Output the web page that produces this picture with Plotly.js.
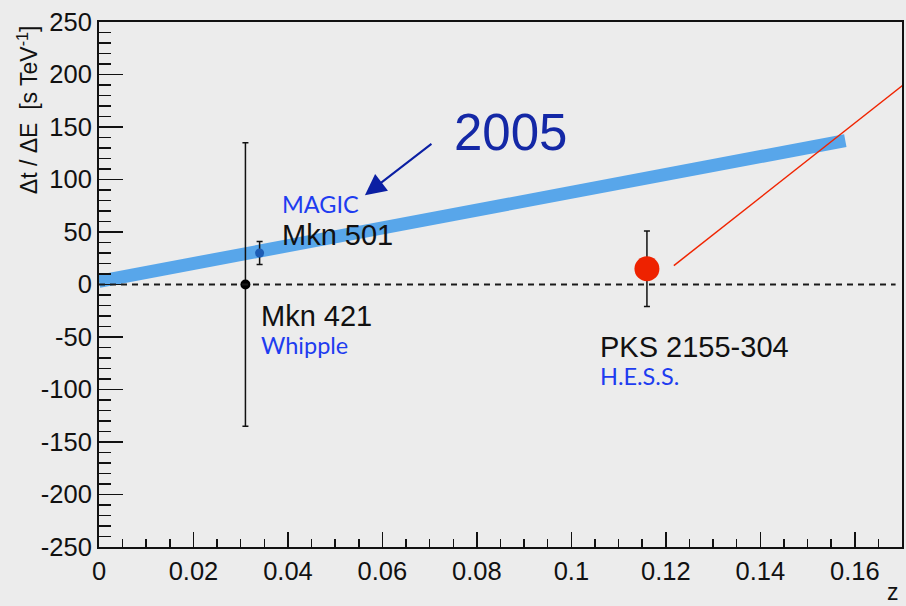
<!DOCTYPE html>
<html>
<head>
<meta charset="utf-8">
<script src="https://cdn.plot.ly/plotly-3.0.1.min.js"></script>
<style>
  html, body { margin: 0; padding: 0; background: #ececec; }
  #chart { width: 906px; height: 606px; }
</style>
</head>
<body>
<div id="chart"></div>
<script>
// Measured time lag per unit energy for three blazars
const sourceNames = ['Mkn 421', 'Mkn 501', 'PKS 2155-304'];
const experiments = ['Whipple', 'MAGIC', 'H.E.S.S.'];
const sourceZ = [0.031, 0.034, 0.116];
const sourceDelay = [0, 30, 15];
const sourceErr = [135, 11, 36];

// MAGIC 2005 linear trend band
const bandZ = [0, 0.158];
const bandDelay = [3, 137];

// Red pointer running off the right side of the frame
const pointerZ = [0.1217, 0.1708];
const pointerDelay = [18, 192];

// "2005" arrow: tail, then head
const arrowZ = [0.0707, 0.0563];
const arrowDelay = [135, 85];
const yearLabel = '2005';

// Axis ranges and tick labels (plain hyphen for negatives)
const zRange = [0, 0.17];
const delayRange = [-250, 250];
const delayTicks = [-250, -200, -150, -100, -50, 0, 50, 100, 150, 200, 250];
const delayTickText = ['-250', '-200', '-150', '-100', '-50', '0', '50', '100', '150', '200', '250'];

const textFont = 'Liberation Sans, Arial, sans-serif';
const expFont = 'Lato, Noto Sans, sans-serif';
const black = '#111111';
const expBlue = '#1e3cf0';

const traces = [
  {
    x: bandZ, y: bandDelay, type: 'scatter', mode: 'lines',
    line: { color: '#58a6ea', width: 13 },
    hoverinfo: 'skip'
  },
  {
    x: sourceZ, y: sourceDelay, type: 'scatter', mode: 'markers',
    text: sourceNames,
    marker: { color: ['#000000', '#1d5cb4', '#ee2200'], size: [10, 9, 25], opacity: 1, line: { width: 0 } },
    error_y: { type: 'data', array: sourceErr, visible: true, color: black, thickness: 1.5, width: 3 }
  }
];

// Source name (black) and experiment (blue) labels, offset from each point
const nameShift = [[14, -31], [20, 18], [-49, -78]];
const expShift = [[14, -60], [20, 49], [-49, -107]];

const annotations = [];
sourceNames.forEach((name, i) => {
  annotations.push({
    x: sourceZ[i], y: sourceDelay[i], xref: 'x', yref: 'y',
    text: name, showarrow: false, xanchor: 'left', yanchor: 'middle',
    xshift: nameShift[i][0], yshift: nameShift[i][1],
    font: { family: textFont, size: 29, color: black }
  });
  annotations.push({
    x: sourceZ[i], y: sourceDelay[i], xref: 'x', yref: 'y',
    text: experiments[i], showarrow: false, xanchor: 'left', yanchor: 'middle',
    xshift: expShift[i][0], yshift: expShift[i][1],
    font: { family: expFont, size: 23.5, color: expBlue }
  });
});

// 2005 arrow and its label
annotations.push({
  x: arrowZ[1], y: arrowDelay[1], ax: arrowZ[0], ay: arrowDelay[0],
  xref: 'x', yref: 'y', axref: 'x', ayref: 'y',
  text: '', showarrow: true, arrowhead: 2, arrowwidth: 2, arrowsize: 2.1, arrowcolor: '#0b1fa3',
  standoff: 0, startstandoff: 0
});
annotations.push({
  x: arrowZ[0], y: arrowDelay[0], xref: 'x', yref: 'y',
  text: yearLabel, showarrow: false, xanchor: 'center', yanchor: 'middle',
  xshift: 78, yshift: 10,
  font: { family: textFont, size: 51, color: '#1428a6' }
});

// Axis titles
annotations.push({
  x: -0.0884, y: 0.832, xref: 'paper', yref: 'paper',
  text: 'Δt / ΔE&nbsp;&nbsp;[s TeV<sup>-1</sup>]', textangle: -90, showarrow: false,
  xanchor: 'center', yanchor: 'middle',
  font: { family: textFont, size: 23, color: black }
});
annotations.push({
  x: 0.989, y: -0.086, xref: 'paper', yref: 'paper',
  text: 'z', showarrow: false, xanchor: 'center', yanchor: 'middle',
  font: { family: textFont, size: 23, color: black }
});

const axisCommon = {
  showgrid: false, zeroline: false,
  showline: true, mirror: true, linecolor: black, linewidth: 2,
  ticks: 'inside', tickcolor: black, tickwidth: 1.5,
  tickfont: { family: textFont, size: 25.5, color: black }
};

const layout = {
  width: 906, height: 606,
  paper_bgcolor: '#ececec', plot_bgcolor: '#ececec',
  margin: { l: 99, r: 4, t: 22, b: 59 },
  showlegend: false,
  xaxis: Object.assign({}, axisCommon, {
    range: zRange, tick0: 0, dtick: 0.02, ticklen: 15,
    minor: { dtick: 0.005, ticks: 'inside', ticklen: 8, tickwidth: 1.5, tickcolor: black }
  }),
  yaxis: Object.assign({}, axisCommon, {
    range: delayRange, tickmode: 'array', tickvals: delayTicks, ticktext: delayTickText, ticklen: 24,
    minor: { tickmode: 'linear', tick0: 0, dtick: 10, ticks: 'inside', ticklen: 12, tickwidth: 1.5, tickcolor: black }
  }),
  shapes: [
    // dashed zero-delay reference line
    { type: 'line', xref: 'paper', yref: 'y', x0: 0, x1: 0.992, y0: 0, y1: 0,
      line: { color: '#1a1a1a', width: 2, dash: '6px,5px' } },
    // red pointer line
    { type: 'line', xref: 'x', yref: 'y', x0: pointerZ[0], y0: pointerDelay[0], x1: pointerZ[1], y1: pointerDelay[1],
      line: { color: '#f02400', width: 1.5 } }
  ],
  annotations: annotations
};

Plotly.newPlot('chart', traces, layout, { displayModeBar: false, staticPlot: true });
</script>
</body>
</html>
